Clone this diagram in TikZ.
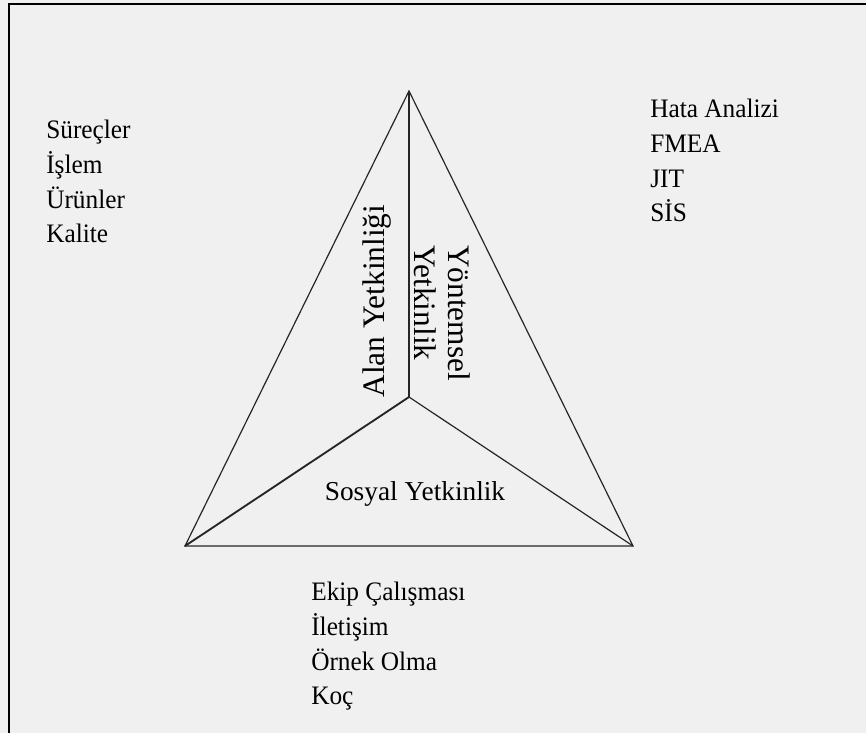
\documentclass[tikz,border=0pt]{standalone}
\usepackage{fontspec}
\setmainfont{Liberation Serif}[FakeStretch=0.95]
\newfontfamily\genis{Liberation Serif}
\usepackage{tikz}

\tikzset{
  yetlabel/.style={font=\genis\fontsize{23.5}{25.5}\selectfont, inner sep=0pt},
  liste/.style={font=\fontsize{20}{26}\selectfont, align=left, anchor=north west, inner sep=0pt},
  kenar/.style={line width=0.9pt, draw=black!85}
}

\begin{document}
\begin{tikzpicture}[x=0.75pt,y=-0.75pt]
\fill[black!6] (0,0) rectangle (866,733);
\useasboundingbox (0,0) rectangle (866,733);
\draw[line width=1.6pt] (9,733) -- (9,4) -- (866,4);

% ucgen
\coordinate (tepe) at (409,91);
\coordinate (orta) at (409,397);
\coordinate (sol) at (185,546);
\coordinate (sag) at (633,546);
\draw[kenar] (tepe) -- (sol) -- (sag) -- cycle;
\draw[kenar, line width=1.2pt] (tepe) -- (orta);
\draw[kenar, line width=1.4pt] (orta) -- (sol);
\draw[kenar] (orta) -- (sag);

% etiketler
\node[yetlabel, rotate=90] (alan) at (377,301) {Alan Yetkinliği};
\node[yetlabel, rotate=-90, align=left] (yontem) at (442,313) {Yöntemsel\\Yetkinlik};
\node[yetlabel, font=\genis\fontsize{20.5}{22}\selectfont] (sosyal) at (415,494) {Sosyal Yetkinlik};

% listeler
\node[liste] (solliste) at (46,120) {Süreçler\\İşlem\\Ürünler\\Kalite};
\node[liste] (sagliste) at (650,99) {Hata Analizi\\FMEA\\JIT\\SİS};
\node[liste] (altliste) at (311,582) {Ekip Çalışması\\İletişim\\Örnek Olma\\Koç};
\end{tikzpicture}
\end{document}
